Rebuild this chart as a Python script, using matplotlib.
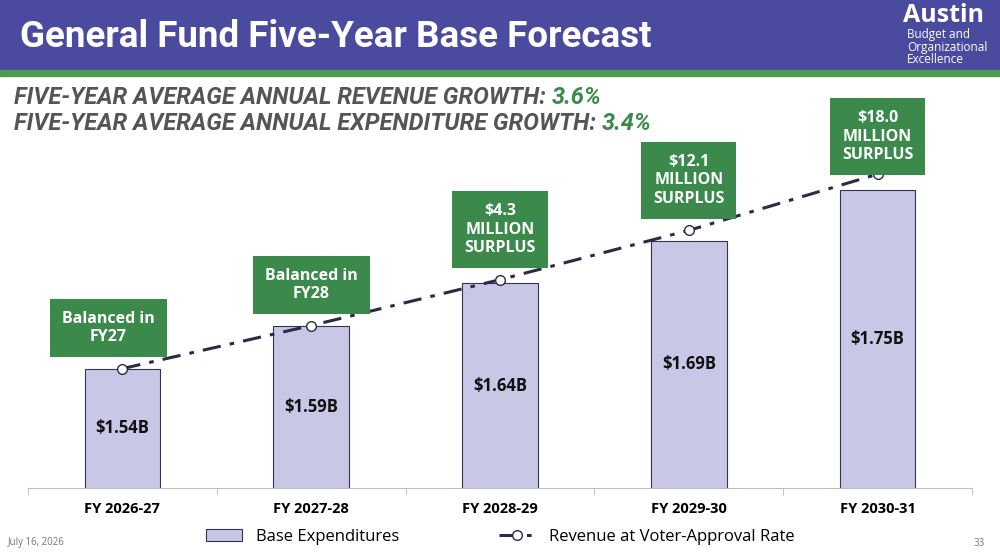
import matplotlib
matplotlib.use("Agg")
import matplotlib.pyplot as plt
from matplotlib.patches import Rectangle
from matplotlib.lines import Line2D

categories = ["FY 2026-27", "FY 2027-28", "FY 2028-29", "FY 2029-30", "FY 2030-31"]
expenditures = [1.54, 1.59, 1.64, 1.69, 1.75]
revenue = [1.54, 1.5905, 1.6443, 1.7021, 1.768]
bar_labels = ["$1.54B", "$1.59B", "$1.64B", "$1.69B", "$1.75B"]
box_labels = ["Balanced in\nFY27", "Balanced in\nFY28", "$4.3\nMILLION\nSURPLUS",
              "$12.1\nMILLION\nSURPLUS", "$18.0\nMILLION\nSURPLUS"]

plt.rcParams['font.family'] = ['Open Sans', 'DejaVu Sans']
fig = plt.figure(figsize=(10, 5.59), dpi=100)
W, H = 1000, 559
purple = "#4a4a9e"; green = "#3b8a4b"; barc = "#c8c8e6"

# header
fig.patches.append(Rectangle((0, 1 - 70 / H), 1, 70 / H, transform=fig.transFigure, color=purple, zorder=0))
fig.patches.append(Rectangle((0, 1 - 76 / H), 1, 6 / H, transform=fig.transFigure, color="#4e9a4e", zorder=0))
fig.text(20 / W, 1 - 37 / H, "General Fund Five-Year Base Forecast", color="white",
         fontsize=26.5, fontweight="bold", va="center", family="Roboto")
fig.text(903 / W, 1 - 15 / H, "Austin", color="white", fontsize=18, fontweight="bold", va="center")
fig.text(907 / W, 1 - 47 / H, "Budget and\nOrganizational\nExcellence", color="white",
         fontsize=8.5, va="center", linespacing=0.95)

# subtitles
for y, t1, t2 in [(98, "FIVE-YEAR AVERAGE ANNUAL REVENUE GROWTH: ", "3.6%"),
                  (124, "FIVE-YEAR AVERAGE ANNUAL EXPENDITURE GROWTH: ", "3.4%")]:
    tx = fig.text(14 / W, 1 - y / H, t1, color="#555555", fontsize=17, style="italic",
                  fontweight="bold", va="center", family="Roboto")
    fig.canvas.draw()
    bb = tx.get_window_extent()
    fig.text(bb.x1 / W, 1 - y / H, t2, color=green, fontsize=17, style="italic",
             fontweight="bold", va="center", family="Roboto")

ax = fig.add_axes([28 / W, 1 - 488 / H, 944 / W, 388 / H])
x = list(range(len(categories)))
ax.bar(x, expenditures, width=0.4, color=barc, edgecolor="#33335a", linewidth=0.8, zorder=2)
ax.plot(x, revenue, linestyle=(0, (6, 3, 1.5, 3)), color="#2a2a4a", linewidth=2.2,
        marker="o", markerfacecolor="white", markeredgecolor="#2a2a4a", markersize=7, zorder=3)
ax.set_ylim(1.40, 1.855)
ax.set_xlim(-0.5, 4.5)
for i in x:
    ax.text(i, (expenditures[i] + 1.40) / 2, bar_labels[i], ha="center", va="center",
            fontsize=12, fontweight="bold", color="#111111", zorder=4)
    ax.annotate(box_labels[i], (i, revenue[i]), xytext=(-10 if i == 0 else 0, 17 if i < 4 else 8),
                textcoords="offset points", ha="center", va="bottom", fontsize=11.5,
                fontweight="bold", color="white", linespacing=1.2, zorder=5,
                bbox=dict(boxstyle="square,pad=0.75", fc=green, ec="none"))
for s in ["top", "right", "left"]:
    ax.spines[s].set_visible(False)
ax.spines["bottom"].set_color("#bbbbbb")
ax.set_yticks([])
ax.set_xticks(x)
ax.set_xticklabels(categories, fontsize=10.5, fontweight="bold")
ax.tick_params(axis="x", length=0, pad=10)
ax.set_xticks([-0.5, 0.5, 1.5, 2.5, 3.5, 4.5], minor=True)
ax.tick_params(axis="x", which="minor", length=5, color="#bbbbbb")

handles = [Rectangle((0, 0), 1, 1, fc=barc, ec="#33335a", lw=0.8),
           Line2D([0], [0], linestyle=(0, (6, 3, 1.5, 3)), color="#2a2a4a", lw=2.2, marker="o",
                  markerfacecolor="white", markeredgecolor="#2a2a4a", markersize=7)]
fig.legend(handles, ["Base Expenditures", "Revenue at Voter-Approval Rate"], loc="center",
           bbox_to_anchor=(0.5, 1 - 537 / H), ncol=2, frameon=False, fontsize=12,
           columnspacing=6, handlelength=2.2)
fig.text(8 / W, 1 - 543 / H, "July 16, 2026", fontsize=7, color="#777777", va="center")
fig.text(985 / W, 1 - 543 / H, "33", fontsize=7, color="#777777", va="center", ha="right")
fig.savefig("out.png", dpi=100)
